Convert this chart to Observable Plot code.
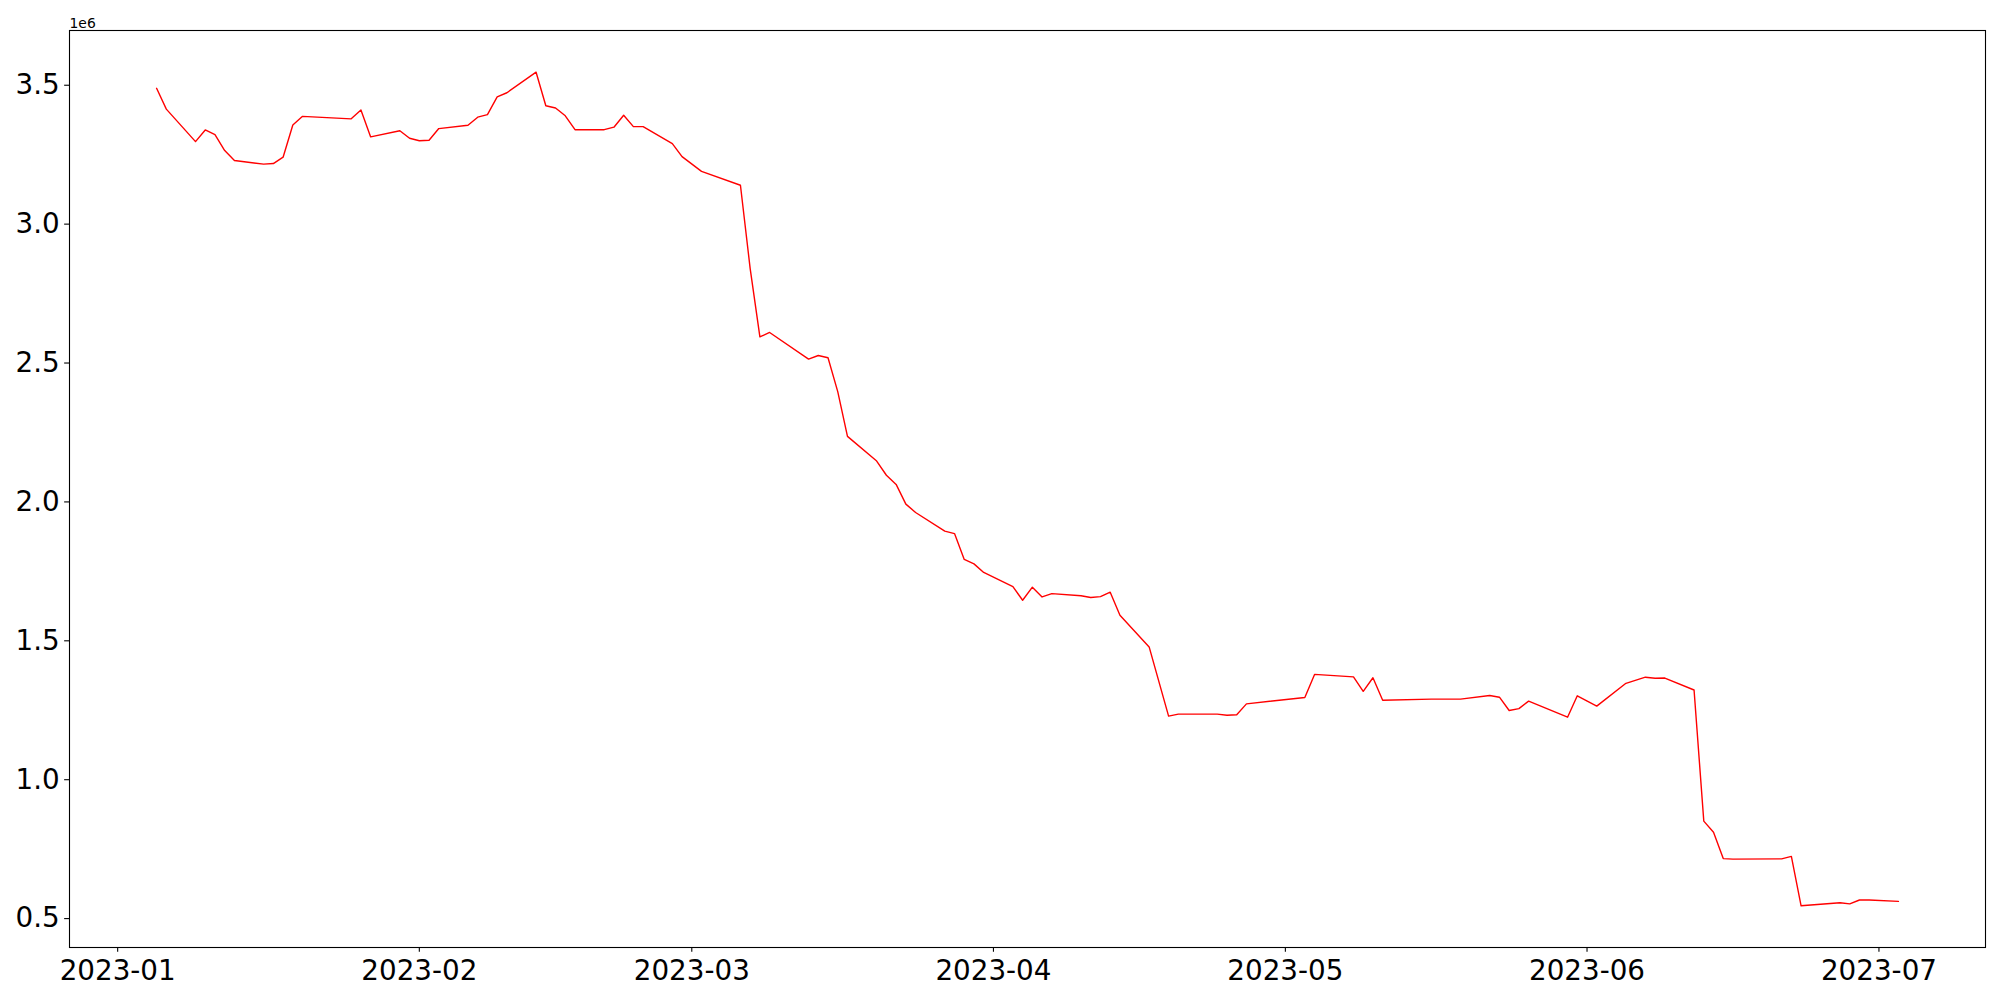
<!DOCTYPE html>
<html>
<head>
<meta charset="utf-8">
<script src="https://cdn.jsdelivr.net/npm/d3@7"></script>
<script src="https://cdn.jsdelivr.net/npm/@observablehq/plot@0.6"></script>
<style>
  html, body { margin: 0; padding: 0; background: white; overflow: hidden; }
  #chart svg { display: block; }
</style>
</head>
<body>
<div id="chart"></div>
<script>
const dates = [
  "2023-01-05","2023-01-06","2023-01-09","2023-01-10","2023-01-11","2023-01-12","2023-01-13",
  "2023-01-16","2023-01-17","2023-01-18","2023-01-19","2023-01-20","2023-01-25","2023-01-26",
  "2023-01-27","2023-01-30","2023-01-31","2023-02-01","2023-02-02","2023-02-03","2023-02-06",
  "2023-02-07","2023-02-08","2023-02-09","2023-02-10","2023-02-13","2023-02-14","2023-02-15",
  "2023-02-16","2023-02-17","2023-02-20","2023-02-21","2023-02-22","2023-02-23","2023-02-24",
  "2023-02-27","2023-02-28","2023-03-02","2023-03-06","2023-03-07","2023-03-08","2023-03-09",
  "2023-03-13","2023-03-14","2023-03-15","2023-03-16","2023-03-17","2023-03-20","2023-03-21",
  "2023-03-22","2023-03-23","2023-03-24","2023-03-27","2023-03-28","2023-03-29","2023-03-30",
  "2023-03-31","2023-04-03","2023-04-04","2023-04-05","2023-04-06","2023-04-07","2023-04-10",
  "2023-04-11","2023-04-12","2023-04-13","2023-04-14","2023-04-17","2023-04-19","2023-04-20",
  "2023-04-21","2023-04-24","2023-04-25","2023-04-26","2023-04-27","2023-05-03","2023-05-04",
  "2023-05-08","2023-05-09","2023-05-10","2023-05-11","2023-05-16","2023-05-19","2023-05-22",
  "2023-05-23","2023-05-24","2023-05-25","2023-05-26","2023-05-30","2023-05-31","2023-06-02",
  "2023-06-05","2023-06-07","2023-06-08","2023-06-09","2023-06-12","2023-06-13","2023-06-14",
  "2023-06-15","2023-06-16","2023-06-21","2023-06-22","2023-06-23","2023-06-27","2023-06-28",
  "2023-06-29","2023-06-30","2023-07-03"
];
const values = [
  3489000,3414000,3297000,3339000,3322000,3265000,3229000,
  3216000,3218000,3241000,3357000,3388000,3379000,3411000,
  3314000,3336000,3309000,3300000,3302000,3344000,3356000,
  3385000,3394000,3458000,3473000,3547000,3426000,3418000,
  3390000,3340000,3340000,3349000,3392000,3351000,3351000,
  3290000,3243000,3190000,3140000,2840000,2594000,2610000,
  2514000,2527000,2519000,2397000,2236000,2147000,2096000,
  2063000,1992000,1962000,1895000,1886000,1793000,1777000,
  1746000,1695000,1646000,1693000,1658000,1670000,1662000,
  1656000,1659000,1675000,1592000,1478000,1229000,1236000,
  1236000,1236000,1232000,1234000,1273000,1296000,1379000,
  1370000,1318000,1367000,1286000,1290000,1290000,1303000,
  1297000,1249000,1256000,1283000,1225000,1302000,1265000,
  1347000,1369000,1365000,1366000,1323000,851000,811000,
  716000,714000,715000,724000,546000,557000,553000,
  567000,567000,562000
];
const xTicks = ["2023-01-01","2023-02-01","2023-03-01","2023-04-01","2023-05-01","2023-06-01","2023-07-01"];
const yTicks = [500000,1000000,1500000,2000000,2500000,3000000,3500000];
const offsetLabel = ["1e6"];

const data = dates.map((d, i) => ({date: new Date(d + "T00:00:00Z"), value: values[i]}));

const [x0, x1] = d3.extent(data, d => +d.date);
const xPad = (x1 - x0) * 0.05;
const [y0, y1] = d3.extent(values);
const yPad = (y1 - y0) * 0.05;

const FS = 27.78;
const TICK = 4.86;

const chart = Plot.plot({
  width: 2000,
  height: 1000,
  marginLeft: 69,
  marginRight: 15,
  marginTop: 30,
  marginBottom: 53,
  style: {fontFamily: "DejaVu Sans", color: "black", background: "white", overflow: "visible"},
  x: {type: "utc", domain: [new Date(x0 - xPad), new Date(x1 + xPad)]},
  y: {domain: [y0 - yPad, y1 + yPad]},
  marks: [
    Plot.line(data, {x: "date", y: "value", stroke: "red", strokeWidth: 1.4}),
    Plot.frame({stroke: "black", strokeWidth: 1.1}),
    Plot.axisX({
      ticks: xTicks.map(d => new Date(d + "T00:00:00Z")),
      tickFormat: d3.utcFormat("%Y-%m"),
      tickSize: TICK, tickPadding: 8, fontSize: FS, label: null, strokeWidth: 1.1
    }),
    Plot.axisY({
      ticks: yTicks,
      tickFormat: d => (d / 1e6).toFixed(1),
      tickSize: TICK, tickPadding: TICK, fontSize: FS, label: null, strokeWidth: 1.1
    }),
    Plot.text(offsetLabel, {
      text: d => d, frameAnchor: "top-left", textAnchor: "start", lineAnchor: "bottom",
      dy: -3, fontSize: 13.9, fill: "black"
    })
  ]
});
document.getElementById("chart").appendChild(chart);
</script>
</body>
</html>
